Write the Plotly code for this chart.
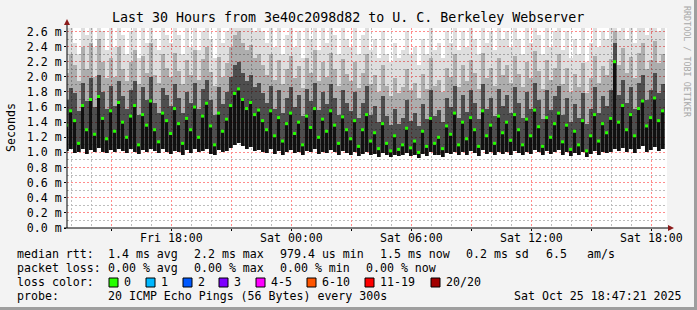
import plotly.graph_objects as go
import pandas as pd

# ---------------- data ----------------
TITLE = "Last 30 Hours from 3e40c2098d82 to U. C. Berkeley Webserver"
WINDOW_START = "2025-10-24 12:47:21"
WINDOW_END = "2025-10-25 18:47:21"
SAMPLE_START = "2025-10-24 12:40:00"
SAMPLE_STEP_MIN = 12

# median rtt (ms)
ping_med = [1.36, 1.55, 1.42, 1.12, 1.62, 1.30, 1.70, 1.24, 1.74, 1.45, 1.18,
            1.55, 1.28, 1.66, 1.40, 1.20, 1.48, 1.62, 1.10, 1.50, 1.36, 1.68, 1.30, 1.14, 1.52, 1.42,
            1.25, 1.58, 1.38, 1.12, 1.45, 1.30, 1.60, 1.20, 1.48, 1.65, 1.35, 1.10, 1.52, 1.28, 1.44,
            1.62, 1.78, 1.84, 1.70, 1.58, 1.66, 1.50, 1.56,
            1.42, 1.30, 1.55, 1.22, 1.46, 1.15, 1.38, 1.52, 1.25, 1.40, 1.10, 1.48, 1.33, 1.58, 1.20, 1.44, 1.28, 1.55, 1.36, 1.12, 1.47, 1.30,
            1.18, 1.42, 1.08, 1.30, 1.50, 1.15, 1.26, 1.05, 1.38, 1.12, 1.02, 1.22, 1.04, 1.10, 1.32, 1.06, 1.15, 1.00, 1.28, 1.08, 1.45, 1.12, 1.20, 1.05, 1.35,
            1.24, 1.52, 1.10, 1.40, 1.18, 1.46, 1.30, 1.08, 1.55, 1.22, 1.36, 1.12, 1.48, 1.26, 1.40,
            1.16, 1.50, 1.30, 1.10, 1.44, 1.22, 1.56, 1.34, 1.08, 1.46, 1.20, 1.38, 1.52,
            1.14, 1.36, 1.04, 1.28, 1.10, 1.42, 1.02, 1.22, 1.50, 1.15, 1.38, 1.26, 1.45, 2.20,
            1.40, 1.62, 1.30, 1.50, 1.22, 1.58, 1.68, 1.35, 1.46, 1.72, 1.42, 1.55]

# fastest ping of each round (ms)
ping_lo = [1.02, 1.05, 0.99, 1.00, 1.04, 0.98, 1.03, 1.00, 1.06, 1.01, 0.99,
           1.03, 1.00, 1.05, 1.02, 0.99, 1.04, 1.01, 0.98, 1.03, 1.00, 1.05, 1.02, 0.99, 1.04, 1.01,
           0.98, 1.02, 1.00, 0.97, 1.03, 0.99, 1.04, 1.00, 1.02, 1.05, 0.98, 0.97, 1.03, 1.00, 1.02,
           1.06, 1.10, 1.12, 1.08, 1.04, 1.07, 1.02, 1.03,
           1.01, 0.99, 1.04, 0.98, 1.02, 0.97, 1.00, 1.03, 0.99, 1.01, 0.97, 1.02, 1.00, 1.04, 0.98, 1.01, 0.99, 1.03, 1.00, 0.97, 1.02, 0.99,
           0.97, 1.00, 0.95, 0.98, 1.01, 0.96, 0.98, 0.94, 0.99, 0.96, 0.94, 0.97, 0.95, 0.96, 0.99, 0.95, 0.97, 0.93, 0.98, 0.95, 1.00, 0.96, 0.97, 0.94, 0.99,
           0.98, 1.01, 0.96, 1.00, 0.97, 1.02, 0.99, 0.95, 1.03, 0.98, 1.00, 0.96, 1.01, 0.98, 1.00,
           0.97, 1.02, 0.99, 0.96, 1.01, 0.98, 1.03, 1.00, 0.96, 1.02, 0.98, 1.00, 1.03,
           0.97, 1.00, 0.95, 0.99, 0.96, 1.01, 0.94, 0.98, 1.02, 0.97, 1.00, 0.99, 1.01, 1.05,
           1.02, 1.06, 1.00, 1.04, 0.99, 1.05, 1.08, 1.01, 1.03, 1.07, 1.02, 1.04]

# 75th percentile (ms)
ping_p75 = [1.70, 1.85, 1.78, 1.55, 1.92, 1.68, 1.98, 1.60, 2.02, 1.80, 1.58,
            1.88, 1.62, 1.95, 1.74, 1.58, 1.82, 1.94, 1.50, 1.86, 1.70, 2.00, 1.66, 1.52, 1.85, 1.76,
            1.62, 1.90, 1.72, 1.52, 1.80, 1.66, 1.92, 1.58, 1.84, 1.96, 1.70, 1.50, 1.86, 1.64, 1.80,
            2.00, 2.15, 2.20, 2.05, 1.95, 2.02, 1.86, 1.92,
            1.78, 1.66, 1.88, 1.58, 1.82, 1.52, 1.72, 1.86, 1.60, 1.76, 1.48, 1.84, 1.68, 1.92, 1.56, 1.80, 1.64, 1.90, 1.72, 1.50, 1.82, 1.66,
            1.55, 1.80, 1.45, 1.66, 1.88, 1.50, 1.62, 1.40, 1.74, 1.48, 1.36, 1.58, 1.38, 1.46, 1.70, 1.42, 1.52, 1.35, 1.64, 1.44, 1.82, 1.48, 1.56, 1.40, 1.72,
            1.60, 1.88, 1.46, 1.76, 1.54, 1.82, 1.66, 1.44, 1.90, 1.58, 1.72, 1.48, 1.84, 1.62, 1.76,
            1.52, 1.86, 1.66, 1.46, 1.80, 1.58, 1.92, 1.70, 1.44, 1.82, 1.56, 1.74, 1.88,
            1.50, 1.72, 1.40, 1.64, 1.46, 1.78, 1.38, 1.58, 1.86, 1.52, 1.74, 1.62, 1.82, 2.45,
            1.76, 1.96, 1.66, 1.86, 1.58, 1.92, 2.02, 1.70, 1.82, 2.05, 1.78, 1.90]

# 90th percentile (ms)
ping_p90 = [2.05, 2.30, 2.15, 1.95, 2.40, 2.10, 2.45, 2.00, 2.50, 2.20, 1.98,
            2.25, 2.00, 2.40, 2.10, 1.95, 2.20, 2.35, 1.90, 2.28, 2.05, 2.45, 2.02, 1.92, 2.30, 2.12,
            2.00, 2.32, 2.08, 1.90, 2.22, 2.02, 2.36, 1.96, 2.24, 2.40, 2.06, 1.88, 2.26, 2.00, 2.18,
            2.40, 2.55, 2.60, 2.45, 2.35, 2.42, 2.25, 2.30,
            2.15, 2.02, 2.30, 1.96, 2.22, 1.90, 2.10, 2.28, 1.98, 2.14, 1.85, 2.25, 2.05, 2.35, 1.94, 2.20, 2.00, 2.32, 2.10, 1.88, 2.24, 2.04,
            1.95, 2.20, 1.85, 2.05, 2.30, 1.90, 2.02, 1.80, 2.15, 1.88, 1.75, 1.98, 1.78, 1.86, 2.10, 1.82, 1.92, 1.72, 2.04, 1.84, 2.25, 1.88, 1.96, 1.80, 2.12,
            2.00, 2.30, 1.86, 2.15, 1.94, 2.22, 2.05, 1.84, 2.32, 1.98, 2.12, 1.88, 2.25, 2.02, 2.16,
            1.92, 2.28, 2.04, 1.86, 2.20, 1.98, 2.34, 2.08, 1.84, 2.22, 1.96, 2.12, 2.30,
            1.90, 2.12, 1.80, 2.04, 1.86, 2.18, 1.78, 1.98, 2.28, 1.92, 2.14, 2.02, 2.24, 2.60,
            2.15, 2.38, 2.05, 2.26, 1.98, 2.32, 2.45, 2.10, 2.22, 2.48, 2.18, 2.30]

# slowest ping of each round (ms)
ping_max = [2.65, 2.65, 2.45, 2.30, 2.65, 2.55, 2.65, 2.40, 2.65, 2.60, 2.35,
            2.65, 2.40, 2.65, 2.55, 2.30, 2.60, 2.65, 2.25, 2.65, 2.45, 2.65, 2.50, 2.35, 2.65, 2.55,
            2.45, 2.65, 2.55, 2.30, 2.65, 2.40, 2.65, 2.35, 2.60, 2.65, 2.50, 2.25, 2.65, 2.45, 2.60,
            2.65, 2.65, 2.65, 2.65, 2.65, 2.65, 2.60, 2.65,
            2.60, 2.45, 2.65, 2.40, 2.65, 2.30, 2.55, 2.65, 2.40, 2.60, 2.25, 2.65, 2.50, 2.65, 2.35, 2.65, 2.45, 2.65, 2.55, 2.30, 2.65, 2.50,
            2.40, 2.65, 2.30, 2.55, 2.65, 2.35, 2.50, 2.25, 2.60, 2.30, 2.20, 2.45, 2.25, 2.35, 2.60, 2.30, 2.40, 2.15, 2.50, 2.30, 2.65, 2.35, 2.45, 2.25, 2.60,
            2.45, 2.65, 2.35, 2.60, 2.40, 2.65, 2.50, 2.30, 2.65, 2.45, 2.60, 2.35, 2.65, 2.50, 2.60,
            2.40, 2.65, 2.50, 2.30, 2.65, 2.45, 2.65, 2.55, 2.30, 2.65, 2.40, 2.60, 2.65,
            2.35, 2.60, 2.25, 2.50, 2.30, 2.65, 2.20, 2.45, 2.65, 2.40, 2.60, 2.50, 2.65, 2.65,
            2.60, 2.65, 2.50, 2.65, 2.45, 2.65, 2.65, 2.55, 2.65, 2.65, 2.60, 2.65]

y_tick_values = [0.0, 0.2, 0.4, 0.6, 0.8, 1.0, 1.2, 1.4, 1.6, 1.8, 2.0, 2.2, 2.4, 2.6]
y_tick_labels = ["0.0 m", "0.2 m", "0.4 m", "0.6 m", "0.8 m", "1.0 m", "1.2 m",
                 "1.4 m", "1.6 m", "1.8 m", "2.0 m", "2.2 m", "2.4 m", "2.6 m"]
x_tick_times = ["2025-10-24 15:00", "2025-10-24 18:00", "2025-10-24 21:00", "2025-10-25 00:00",
                "2025-10-25 03:00", "2025-10-25 06:00", "2025-10-25 09:00", "2025-10-25 12:00",
                "2025-10-25 15:00", "2025-10-25 18:00"]
x_tick_labels = ["", "Fri 18:00", "", "Sat 00:00", "", "Sat 06:00", "", "Sat 12:00", "", "Sat 18:00"]

legend_rtt = [("median rtt:", 16), ("1.4 ms avg", 107), ("2.2 ms max", 193), ("979.4 us min", 279),
              ("1.5 ms now", 379), ("0.2 ms sd", 465), ("6.5", 545), ("am/s", 586)]
legend_loss = [("packet loss:", 16), ("0.00 % avg", 107), ("0.00 % max", 193),
               ("0.00 % min", 279), ("0.00 % now", 365)]
loss_labels = ["0", "1", "2", "3", "4-5", "6-10", "11-19", "20/20"]
loss_colors = ["#26ff00", "#00b8ff", "#0059ff", "#7e00ff", "#ff00ff", "#ff5500", "#ff0000", "#a10000"]
loss_box_x = [109, 146, 183, 219, 256, 307, 365, 431]
probe_text = "20 ICMP Echo Pings (56 Bytes) every 300s"
stamp_text = "Sat Oct 25 18:47:21 2025"

n = len(ping_med)
for arr in (ping_lo, ping_p75, ping_p90, ping_max):
    assert len(arr) == n, len(arr)

# ---------------- geometry helpers (pixels -> paper) ----------------
W, H = 697, 310
PL, PR, PT, PB = 67, 667, 28, 228
def px(x):
    return (x - PL) / (PR - PL)
def py(y):
    return (PB - y) / (PB - PT)

MONO = "DejaVu Sans Mono"
step_ms = SAMPLE_STEP_MIN * 60 * 1000
times = pd.date_range(SAMPLE_START, periods=n, freq=f"{SAMPLE_STEP_MIN}min") + pd.Timedelta(minutes=SAMPLE_STEP_MIN / 2)

fig = go.Figure()
# translucent smoke layers, so the dotted grid shows through as in rrdtool
layers = [(ping_max, "rgba(0,0,0,0.13)", 1.0), (ping_p90, "rgba(0,0,0,0.22)", 1.0),
          (ping_p75, "rgba(0,0,0,0.55)", 1.0), (ping_med, "rgba(0,0,0,0.78)", 0.6)]
for top, col, wfrac in layers:
    fig.add_trace(go.Bar(
        x=times, base=ping_lo, y=[t - b for t, b in zip(top, ping_lo)],
        width=step_ms * wfrac, marker=dict(color=col, line=dict(width=0)),
        hoverinfo="skip", showlegend=False))
fig.add_trace(go.Scatter(
    x=times, y=ping_med, mode="markers",
    marker=dict(symbol="square", size=3, color="#26ff00", line=dict(width=0)),
    showlegend=False, hoverinfo="skip"))

RED = "#ff8c8c"
GRAY = "#bdbdbd"
DASH = "2px,2px"

shapes = []
# axes with arrows
shapes.append(dict(type="line", xref="paper", yref="paper", x0=px(67), x1=px(67), y0=py(228), y1=py(24),
                   line=dict(color="black", width=1), layer="above"))
shapes.append(dict(type="line", xref="paper", yref="paper", x0=px(64), x1=px(670), y0=py(228), y1=py(228),
                   line=dict(color="black", width=1), layer="above"))
shapes.append(dict(type="path", xref="paper", yref="paper",
                   path=f"M {px(64)} {py(25)} L {px(70)} {py(25)} L {px(67)} {py(19)} Z",
                   fillcolor="#8b1a1a", line=dict(width=0), layer="above"))
shapes.append(dict(type="path", xref="paper", yref="paper",
                   path=f"M {px(668)} {py(225)} L {px(668)} {py(231)} L {px(674)} {py(228)} Z",
                   fillcolor="#8b1a1a", line=dict(width=0), layer="above"))
# frame shading
shapes.append(dict(type="rect", xref="paper", yref="paper", x0=px(694), x1=px(697), y0=py(0), y1=py(310),
                   fillcolor="#9e9e9e", line=dict(width=0)))
shapes.append(dict(type="rect", xref="paper", yref="paper", x0=px(0), x1=px(697), y0=py(307), y1=py(310),
                   fillcolor="#9e9e9e", line=dict(width=0)))
# loss color boxes
for bx, col in zip(loss_box_x, loss_colors):
    shapes.append(dict(type="rect", xref="paper", yref="paper", x0=px(bx), x1=px(bx + 9),
                       y0=py(278), y1=py(287), fillcolor=col, line=dict(color="black", width=1)))

ann = []
def text(s, x, y, size=11.6, anchor="left", color="black", angle=0):
    ann.append(dict(text=s, x=px(x), y=py(y), xref="paper", yref="paper", showarrow=False,
                    xanchor=anchor, yanchor="middle", textangle=angle,
                    font=dict(family=MONO, size=size, color=color), borderpad=0))

text(TITLE, 348, 18, size=13.3, anchor="center")
text("Seconds", 11, 128, anchor="center", angle=-90)
text("RRDTOOL / TOBI OETIKER", 687, 62, size=8.4, anchor="center", color="#a8a8a8", angle=90)
for s, x in legend_rtt:
    text(s, x, 254)
for s, x in legend_loss:
    text(s, x, 268)
text("loss color:", 16, 282)
for lab, bx in zip(loss_labels, loss_box_x):
    text(lab, bx + 14, 282)
text("probe:", 16, 296)
text(probe_text, 107, 296)
text(stamp_text, 513, 296)
for t, lab in zip(x_tick_times, x_tick_labels):
    if lab:
        ann.append(dict(text=lab, x=t, y=py(238), xref="x", yref="paper", showarrow=False,
                        xanchor="center", yanchor="middle",
                        font=dict(family=MONO, size=11.6, color="black"), borderpad=0))

fig.update_layout(
    width=W, height=H,
    margin=dict(l=PL, r=W - PR, t=PT, b=H - PB, pad=0),
    paper_bgcolor="#f3f3f3", plot_bgcolor="white",
    barmode="overlay", bargap=0, showlegend=False,
    shapes=shapes, annotations=ann,
    xaxis=dict(type="date", range=[WINDOW_START, WINDOW_END], zeroline=False,
               showline=False, tickmode="array", tickvals=x_tick_times, ticktext=x_tick_labels,
               showticklabels=False, ticks="outside", ticklen=2, tickcolor="black",
               showgrid=True, gridcolor=RED, gridwidth=1, griddash=DASH,
               minor=dict(tick0="2025-10-24 13:00", dtick=3600000, showgrid=True, ticks="",
                          gridcolor=GRAY, gridwidth=1, griddash=DASH)),
    yaxis=dict(range=[0, 2.646], zeroline=False, showline=False,
               tickmode="array", tickvals=y_tick_values, ticktext=y_tick_labels,
               ticks="outside", ticklen=2, tickcolor="black",
               tickfont=dict(family=MONO, size=11.6, color="black"),
               showgrid=True, gridcolor=RED, gridwidth=1, griddash=DASH,
               minor=dict(tick0=0.1, dtick=0.2, showgrid=True, ticks="",
                          gridcolor=GRAY, gridwidth=1, griddash=DASH)),
)

fig.write_html("out.html")
